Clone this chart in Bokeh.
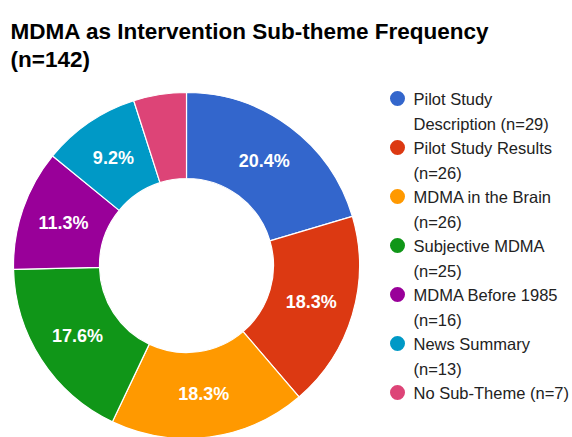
import math
from bokeh.plotting import figure
from bokeh.models import Range1d, ColumnDataSource
from bokeh.core.properties import value
from bokeh.embed import file_html
from bokeh.resources import INLINE

# ---- data ----
categories = ["Pilot Study Description", "Pilot Study Results", "MDMA in the Brain",
              "Subjective MDMA", "MDMA Before 1985", "News Summary", "No Sub-Theme"]
counts = [29, 26, 26, 25, 16, 13, 7]
legend_line1 = ["Pilot Study", "Pilot Study Results", "MDMA in the Brain",
                "Subjective MDMA", "MDMA Before 1985", "News Summary", "No Sub-Theme (n=7)"]
legend_line2 = ["Description (n=29)", "(n=26)", "(n=26)", "(n=25)", "(n=16)", "(n=13)", ""]
colors = ["#3366cc", "#dc3912", "#ff9900", "#109618", "#990099", "#0099c6", "#dd4477"]
title_lines = ["MDMA as Intervention Sub-theme Frequency", "(n=142)"]

# ---- layout (image pixel coordinates; y is negated) ----
W, H = 572, 437
cx, cy = 186, 265
r_out, r_in = 173, 87
FONT = "Liberation Sans"

total = sum(counts)
starts, ends, lx, ly, labels = [], [], [], [], []
cum = 0
for c in counts:
    a0 = math.pi / 2 - 2 * math.pi * cum / total
    cum += c
    a1 = math.pi / 2 - 2 * math.pi * cum / total
    starts.append(a0)
    ends.append(a1)
    mid = (a0 + a1) / 2
    rm = (r_in + r_out) / 2
    lx.append(cx + rm * math.cos(mid))
    ly.append(-cy + rm * math.sin(mid))
    frac = c / total
    labels.append(f"{frac*100:.1f}%" if frac >= 0.05 else "")

p = figure(width=W, height=H, output_backend="svg", toolbar_location=None,
           x_range=Range1d(0, W), y_range=Range1d(-H, 0),
           min_border=0, outline_line_color=None)
p.axis.visible = False
p.grid.visible = False
p.background_fill_color = "white"

src = ColumnDataSource(dict(start=starts, end=ends, color=colors, cat=categories))
p.annular_wedge(x=cx, y=-cy, inner_radius=r_in, outer_radius=r_out,
                inner_radius_units="screen", outer_radius_units="screen",
                start_angle="start", end_angle="end", direction="clock",
                fill_color="color", line_color="white", line_width=1.2, source=src)

p.text(x=lx, y=ly, text=labels, text_color="white", text_font=value(FONT),
       text_font_size="18px", text_font_style="bold", text_align="center",
       text_baseline="middle")

# title
p.text(x=[10, 10], y=[-31, -59], text=title_lines, text_color="#000000",
       text_font=value(FONT), text_font_size="22.5px", text_font_style="bold",
       text_align="left", text_baseline="alphabetic")

# legend
leg_y = [-(98 + 49 * i) for i in range(len(categories))]
p.scatter(x=[397] * len(categories), y=leg_y, size=15, marker="circle",
          fill_color=colors, line_color=None)
p.text(x=[413] * len(categories), y=leg_y, text=legend_line1, text_color="#222222",
       text_font=value(FONT), text_font_size="16.5px", text_align="left",
       text_baseline="middle")
p.text(x=[413] * len(categories), y=[y - 25 for y in leg_y], text=legend_line2,
       text_color="#222222", text_font=value(FONT), text_font_size="16.5px",
       text_align="left", text_baseline="middle")

open("out.html", "w").write(file_html(p, INLINE))
